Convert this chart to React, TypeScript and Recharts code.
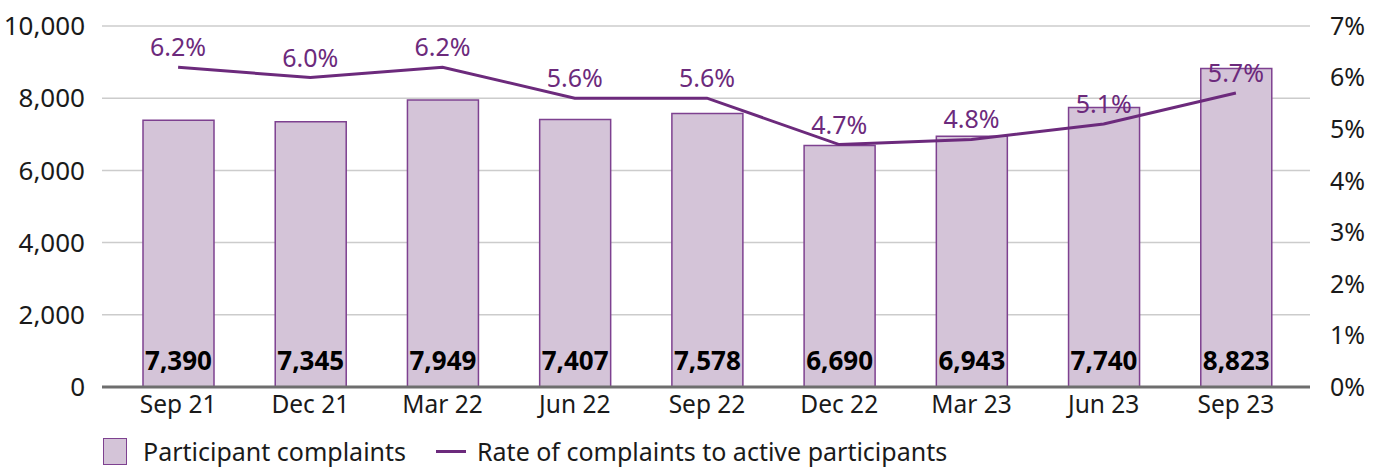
import {
  ComposedChart,
  Bar,
  Line,
  XAxis,
  YAxis,
  CartesianGrid,
  Legend,
  LabelList,
} from "recharts";

const quarters = ["Sep 21", "Dec 21", "Mar 22", "Jun 22", "Sep 22", "Dec 22", "Mar 23", "Jun 23", "Sep 23"];
const complaints = [7390, 7345, 7949, 7407, 7578, 6690, 6943, 7740, 8823];
const rates = [0.062, 0.06, 0.062, 0.056, 0.056, 0.047, 0.048, 0.051, 0.057];
const countTicks = [0, 2000, 4000, 6000, 8000, 10000];
const rateTicks = [0, 0.01, 0.02, 0.03, 0.04, 0.05, 0.06, 0.07];

const PURPLE = "#6c2a7c";
const BAR_FILL = "#d4c4d8";
const BAR_STROKE = "#7e4190";
const FONT = '"Noto Sans", sans-serif';

const data = quarters.map((q, i) => ({
  quarter: q,
  complaints: complaints[i],
  rate: rates[i],
}));

const LegendContent = () => (
  <div style={{ display: "flex", alignItems: "center", fontSize: 25, color: "#1a1a1a", fontFamily: FONT }}>
    <span
      style={{
        display: "inline-block",
        width: 24,
        height: 27,
        background: BAR_FILL,
        border: `1.5px solid ${BAR_STROKE}`,
        boxSizing: "border-box",
        marginLeft: 103,
        marginRight: 16,
      }}
    />
    <span>Participant complaints</span>
    <span
      style={{
        display: "inline-block",
        width: 30,
        height: 3,
        background: PURPLE,
        marginLeft: 30,
        marginRight: 11,
      }}
    />
    <span>Rate of complaints to active participants</span>
  </div>
);

const App = () => {
  return (
    <div style={{ position: "absolute", left: 0, top: 0, fontFamily: FONT }}>
      <ComposedChart
        width={1384}
        height={474}
        data={data}
        margin={{ top: 26, right: 0, bottom: 0, left: 0 }}
      >
        <CartesianGrid yAxisId="left" vertical={false} stroke="#cccccc" strokeWidth={1.5} />
        <XAxis
          dataKey="quarter"
          padding={{ left: 10, right: 8 }}
          height={47}
          tickLine={false}
          axisLine={{ stroke: "#6e6e6e", strokeWidth: 3 }}
          tick={{ fontSize: 24.5, fill: "#1a1a1a" }}
          tickMargin={3}
        />
        <YAxis
          yAxisId="left"
          width={102}
          domain={[0, 10000]}
          ticks={countTicks}
          axisLine={false}
          tickLine={false}
          tickMargin={11}
          tick={{ fontSize: 26, fill: "#1a1a1a" }}
          tickFormatter={(v: number) => v.toLocaleString("en-US")}
        />
        <YAxis
          yAxisId="right"
          orientation="right"
          width={74}
          domain={[0, 0.07]}
          ticks={rateTicks}
          axisLine={false}
          tickLine={false}
          tickMargin={14}
          tick={{ fontSize: 25, fill: "#1a1a1a" }}
          tickFormatter={(v: number) => `${Math.round(v * 100)}%`}
        />
        <Legend verticalAlign="bottom" height={40} content={<LegendContent />} />
        <Bar
          yAxisId="left"
          dataKey="complaints"
          barSize={71}
          fill={BAR_FILL}
          stroke={BAR_STROKE}
          strokeWidth={1.5}
          isAnimationActive={false}
        >
          <LabelList
            dataKey="complaints"
            position="insideBottom"
            offset={17}
            fill="#000"
            fontSize={26}
            fontWeight="bold"
            formatter={(v: number) => v.toLocaleString("en-US")}
          />
        </Bar>
        <Line
          yAxisId="right"
          dataKey="rate"
          stroke={PURPLE}
          strokeWidth={3}
          dot={false}
          activeDot={false}
          isAnimationActive={false}
        >
          <LabelList
            dataKey="rate"
            position="top"
            offset={11}
            fill={PURPLE}
            fontSize={25}
            formatter={(v: number) => `${(v * 100).toFixed(1)}%`}
          />
        </Line>
      </ComposedChart>
    </div>
  );
};

export default App;
